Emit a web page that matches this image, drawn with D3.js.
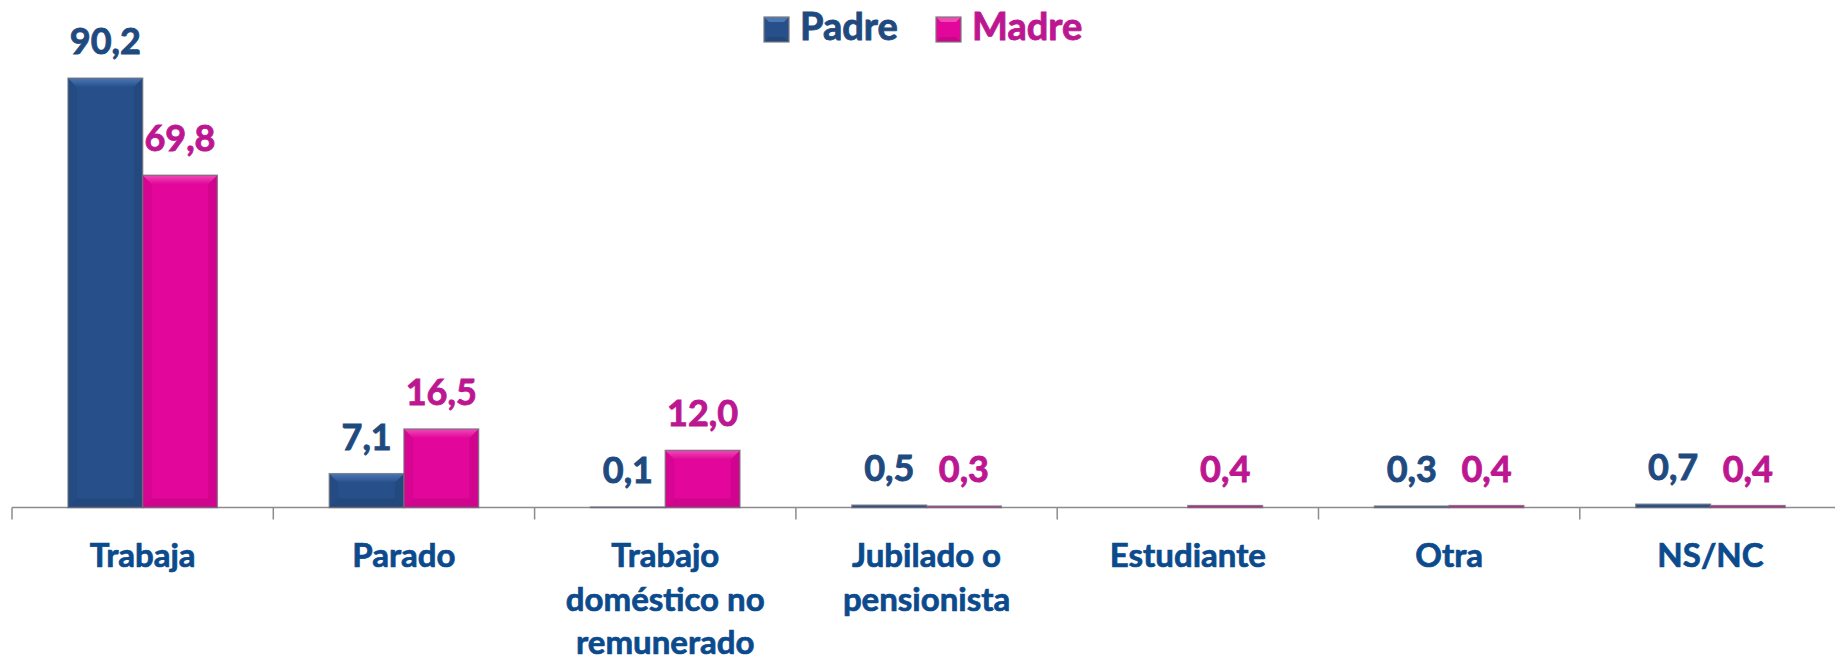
<!DOCTYPE html>
<html>
<head>
<meta charset="utf-8">
<script src="https://cdn.jsdelivr.net/npm/d3@7"></script>
<style>
  html, body { margin: 0; padding: 0; background: #ffffff; }
  svg { display: block; font-family: Lato, 'Open Sans', sans-serif; font-weight: bold; }
</style>
</head>
<body>
<div id="chart"></div>
<script>
// Data
const categories = ['Trabaja', 'Parado', 'Trabajo doméstico no remunerado', 'Jubilado o pensionista', 'Estudiante', 'Otra', 'NS/NC'];
const tickLabels = [['Trabaja'], ['Parado'], ['Trabajo', 'doméstico no', 'remunerado'], ['Jubilado o', 'pensionista'], ['Estudiante'], ['Otra'], ['NS/NC']];
const seriesNames = ['Padre', 'Madre'];
const padreValues = [90.2, 7.1, 0.1, 0.5, null, 0.3, 0.7];
const madreValues = [69.8, 16.5, 12.0, 0.3, 0.4, 0.4, 0.4];

// Chart settings
const width = 1835, height = 660;
const axisY = 507.5;
const colors = {
    Padre: { fill: '#27508a', light: '#4a77b6', dark: '#1c3d6b', text: '#1f4a80' },
    Madre: { fill: '#e3069b', light: '#ef4bb6', dark: '#b00478', text: '#bd1691' }
};
const catColor = '#0b4a8c';

const svg = d3.select('#chart')
    .append('svg')
    .attr('width', width)
    .attr('height', height);

// Gradients for the top bevel
const defs = svg.append('defs');
seriesNames.forEach(s => {
    const grad = defs.append('linearGradient')
        .attr('id', `top-${s}`)
        .attr('x1', 0).attr('y1', 0).attr('x2', 0).attr('y2', 1);
    grad.append('stop').attr('offset', '0%').attr('stop-color', colors[s].light);
    grad.append('stop').attr('offset', '100%').attr('stop-color', colors[s].fill);
});

// Scales
const xScale = d3.scaleBand()
    .domain(categories)
    .range([12, 12 + 7 * 261.3])
    .padding(0);
const xSub = d3.scaleBand()
    .domain(seriesNames)
    .range([0, xScale.bandwidth()])
    .paddingInner(0)
    .paddingOuter(0.75);
const yScale = d3.scaleLinear()
    .domain([0, 100])
    .range([axisY, 31.5]);

const locale = d3.formatLocale({ decimal: ',', thousands: '.', grouping: [3], currency: ['', '€'] });
const fmt = locale.format('.1f');

// Flatten into bar records
const bars = [];
categories.forEach((c, i) => {
    bars.push({ cat: c, series: 'Padre', value: padreValues[i] });
    bars.push({ cat: c, series: 'Madre', value: madreValues[i] });
});
const validBars = bars.filter(d => d.value !== null);

// Axis line + ticks at category boundaries
const boundaries = categories.map(c => xScale(c)).concat([xScale(categories[categories.length - 1]) + xScale.bandwidth()]);
const axisG = svg.append('g');
axisG.append('line')
    .attr('x1', boundaries[0]).attr('x2', width)
    .attr('y1', axisY).attr('y2', axisY)
    .attr('stroke', '#8c8c8c').attr('stroke-width', 1.5);
axisG.selectAll('.tick')
    .data(boundaries.filter(b => b < width))
    .join('line')
    .attr('x1', d => d).attr('x2', d => d)
    .attr('y1', axisY).attr('y2', axisY + 12)
    .attr('stroke', '#8c8c8c').attr('stroke-width', 1.5);

// Bars with bevel effect
const barG = svg.append('g')
    .selectAll('g')
    .data(validBars)
    .join('g');

barG.each(function(d) {
    const g = d3.select(this);
    const x0 = xScale(d.cat) + xSub(d.series);
    const w = xSub.bandwidth();
    const y0 = yScale(d.value);
    const h = axisY - y0;
    const b = Math.min(9, h / 2);
    const c = colors[d.series];

    g.append('rect')
        .attr('x', x0).attr('y', y0)
        .attr('width', w).attr('height', h)
        .attr('fill', c.fill);
    // top bevel
    g.append('polygon')
        .attr('points', [[x0, y0], [x0 + w, y0], [x0 + w - b, y0 + b], [x0 + b, y0 + b]].join(' '))
        .attr('fill', `url(#top-${d.series})`);
    // left bevel
    g.append('polygon')
        .attr('points', [[x0, y0], [x0 + b, y0 + b], [x0 + b, axisY - b], [x0, axisY]].join(' '))
        .attr('fill', c.dark).attr('opacity', 0.25);
    // right bevel
    g.append('polygon')
        .attr('points', [[x0 + w, y0], [x0 + w - b, y0 + b], [x0 + w - b, axisY - b], [x0 + w, axisY]].join(' '))
        .attr('fill', c.dark).attr('opacity', 0.35);
    // bottom bevel
    g.append('polygon')
        .attr('points', [[x0, axisY], [x0 + b, axisY - b], [x0 + w - b, axisY - b], [x0 + w, axisY]].join(' '))
        .attr('fill', c.dark).attr('opacity', 0.4);
    // outline
    g.append('rect')
        .attr('x', x0).attr('y', y0)
        .attr('width', w).attr('height', h)
        .attr('fill', 'none')
        .attr('stroke', '#6f6f78').attr('stroke-opacity', 0.7).attr('stroke-width', 1.5);
});

// Value labels
svg.append('g')
    .selectAll('text')
    .data(validBars)
    .join('text')
    .attr('x', d => xScale(d.cat) + xSub(d.series) + xSub.bandwidth() / 2)
    .attr('y', d => yScale(d.value) - 24)
    .attr('text-anchor', 'middle')
    .attr('font-size', 36)
    .attr('fill', d => colors[d.series].text)
    .attr('stroke', d => colors[d.series].text)
    .attr('stroke-width', 0.9)
    .text(d => fmt(d.value));

// Category labels
const catG = svg.append('g')
    .selectAll('text')
    .data(categories)
    .join('text')
    .attr('text-anchor', 'middle')
    .attr('font-size', 33)
    .attr('fill', catColor)
    .attr('stroke', catColor)
    .attr('stroke-width', 0.7)
    .attr('transform', d => `translate(${xScale(d) + xScale.bandwidth() / 2}, 567)`);
catG.selectAll('tspan')
    .data((d, i) => tickLabels[i])
    .join('tspan')
    .attr('x', 0)
    .attr('y', (d, i) => i * 43.5)
    .text(d => d);

// Legend
const legend = svg.append('g');
const legendItems = [
    { name: 'Padre', x: 764 },
    { name: 'Madre', x: 936 }
];
legendItems.forEach(item => {
    const c = colors[item.name];
    const s = 25, b = 5;
    const lx = item.x, ly = 17;
    legend.append('rect')
        .attr('x', lx).attr('y', ly).attr('width', s).attr('height', s)
        .attr('fill', c.fill);
    legend.append('polygon')
        .attr('points', [[lx, ly], [lx + s, ly], [lx + s / 2, ly + s / 2]].join(' '))
        .attr('fill', c.light);
    legend.append('polygon')
        .attr('points', [[lx, ly + s], [lx + s, ly + s], [lx + s / 2, ly + s / 2]].join(' '))
        .attr('fill', c.dark).attr('opacity', 0.5);
    legend.append('rect')
        .attr('x', lx + b).attr('y', ly + b).attr('width', s - 2 * b).attr('height', s - 2 * b)
        .attr('fill', c.fill);
    legend.append('rect')
        .attr('x', lx).attr('y', ly).attr('width', s).attr('height', s)
        .attr('fill', 'none').attr('stroke', '#7a7a7a').attr('stroke-width', 1.2);
    legend.append('text')
        .attr('x', lx + s + 11)
        .attr('y', 40)
        .attr('font-size', 38)
        .attr('fill', c.text)
        .attr('stroke', c.text)
        .attr('stroke-width', 0.9)
        .text(item.name);
});
</script>
</body>
</html>
